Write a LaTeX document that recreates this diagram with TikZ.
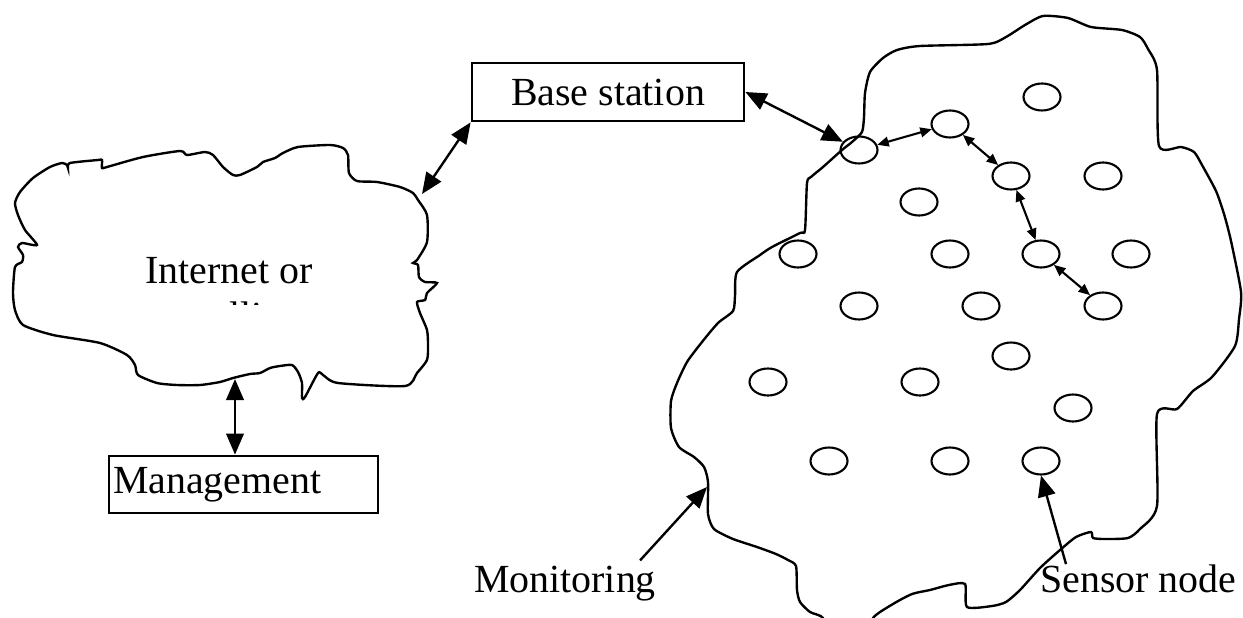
\documentclass[tikz,border=0pt]{standalone}
\usepackage{fontspec}
\setmainfont{Liberation Serif}
\usetikzlibrary{arrows.meta,shapes.geometric}

\begin{document}
\begin{tikzpicture}[x=0.02cm, y=-0.02cm, line width=1.35pt,
  every node/.style={font=\fontsize{22.7}{27}\selectfont},
  box/.style={draw, line width=1.6pt, minimum height=1.16cm, inner sep=0.08cm},
  sensor/.style={draw, ellipse, line width=1.2pt, minimum width=0.74cm, minimum height=0.54cm, inner sep=0},
  link/.style={{Triangle[length=12pt,width=10pt]}-{Triangle[length=12pt,width=10pt]}},
  hop/.style={line width=1.2pt, {Triangle[length=6.5pt,width=5.5pt]}-{Triangle[length=6.5pt,width=5.5pt]}},
  pointer/.style={-{Triangle[length=12pt,width=10pt]}}]
\useasboundingbox (0,0) rectangle (1243,618);
% internet cloud
\draw plot[smooth cycle, tension=0.4] coordinates {(15,203) (20,192) (33,178) (50,167) (62,163) (67,165) (68,168) (70,163) (98,160) (102,160) (102,168) (107,167) (143,157) (180,151) (187,155) (205,152) (213,155) (223,167) (233,175) (240,175) (257,167) (263,162) (275,158) (283,153) (298,147) (330,145) (343,148) (348,155) (349,173) (357,181) (377,182) (400,187) (413,193) (418,200) (427,215) (427,242) (417,260) (413,263) (418,265) (419,277) (425,282) (437,283) (427,293) (425,300) (417,302) (420,313) (427,330) (428,345) (427,360) (417,373) (405,386) (338,383) (323,375) (318,373) (305,397) (302,398) (302,383) (298,372) (292,365) (280,366) (270,368) (260,373) (250,374) (233,378) (220,382) (200,385) (177,385) (157,383) (138,375) (135,365) (127,355) (100,343) (53,335) (23,325) (15,310) (13,293) (15,267) (22,262) (23,255) (18,247) (22,243) (37,245) (25,230) (18,215)};
\node[anchor=base] (inet) at (229,283) {Internet or};
\begin{scope}
\clip (140,301) rectangle (320,304);
\node[anchor=base] (sat) at (229,329.5) {satellite};
\end{scope}
% monitoring area
\begin{scope}
\clip (0,0) rectangle (1243,618);
\draw plot[smooth cycle, tension=0.4] coordinates {(811,177) (823,167) (842,150) (852,142) (862,132) (864,117) (865,93) (870,72) (883,58) (897,50) (920,46) (988,44) (1006,37) (1025,25) (1043,16) (1068,18) (1091,27) (1122,30) (1140,37) (1148,49) (1157,70) (1159,146) (1181,147) (1194,152) (1202,165) (1216,191) (1224,214) (1231,241) (1241,292) (1239,319) (1235,346) (1212,377) (1193,391) (1177,409) (1157,414) (1157,506) (1140,529) (1128,538) (1105,539) (1093,538) (1091,532) (1076,537) (1060,550) (1040,568) (1020,590) (1006,602) (992,606) (967,607) (965,584) (949,585) (930,590) (912,594) (893,604) (873,618) (870,640) (826,640) (823,618) (810,612) (800,602) (797,590) (796,566) (788,560) (776,554) (757,547) (733,539) (714,529) (708,514) (708,482) (704,467) (694,457) (679,447) (671,428) (671,401) (677,383) (687,362) (702,342) (718,323) (733,311) (735,296) (737,272) (760,255) (772,247) (800,233) (805,230) (807,183)};
\end{scope}
\foreach \n/\x/\y in {1/1042/97, 2/950/124, 3/859/150, 4/1011/176, 5/1103/176, 6/919/202, 7/798/254, 8/950/254, 9/1041/254, 10/1131/254, 11/859/306, 12/981/306, 13/1103/306, 14/1011/356, 15/768/382, 16/920/382, 17/1073/408, 18/829/461, 19/950/461, 20/1041/461}
  \node[sensor] (s\n) at (\x,\y) {};
\node[box, minimum width=5.44cm] (base) at (608,92) {Base station};
\node[box, minimum width=5.38cm, minimum height=1.14cm, text width=5.22cm, align=left] (mgmt) at (243.5,484.5) {Management};
\node[anchor=base west, inner sep=0] (mon) at (473,592) {Monitoring};
\node[anchor=base west, inner sep=0] (sen) at (1039,592) {Sensor node};
\coordinate (netTop) at (422,194);
\coordinate (netBot) at (235,379);
\coordinate (monTip) at (707,487);
\draw[link] (netTop) -- (base.south west);
\draw[link] (netBot) -- (netBot |- mgmt.north);
\draw[link] (base.east) -- (s3);
\foreach \a/\b in {3/2, 2/4, 4/9, 9/13} \draw[hop] (s\a) -- (s\b);
\draw[pointer] ([shift={(-17,-4)}]mon.north east) -- (monTip);
\draw[pointer] ([shift={(27,1)}]sen.north west) -- (s20.south);
\end{tikzpicture}
\end{document}
